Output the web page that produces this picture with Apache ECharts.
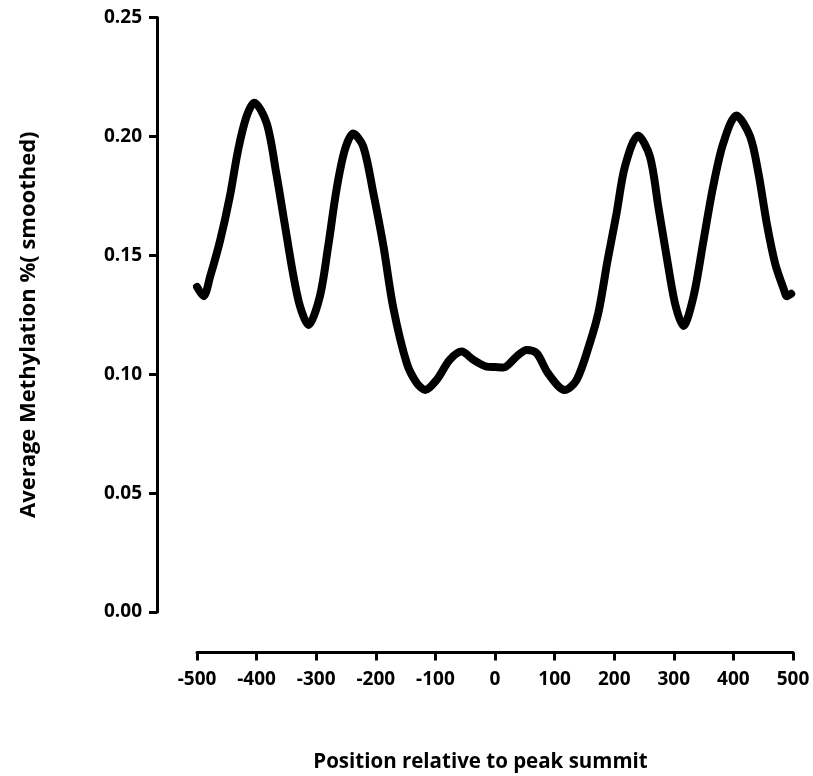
<!DOCTYPE html>
<html>
<head>
<meta charset="utf-8">
<script src="https://cdn.jsdelivr.net/npm/echarts@6/dist/echarts.min.js"></script>
<style>
html,body{margin:0;padding:0;background:#fff;}
#chart{width:813px;height:776px;}
</style>
</head>
<body>
<div id="chart"></div>
<script>
const positions = [-500,-489,-478,-461,-445,-431,-417,-404,-383,-367,-353,-339,-327,-313,-294,-280,-266,-252,-238,-221,-204,-187,-171,-148,-131,-117,-98,-76,-56,-36,-14,0,14,36,53,70,89,117,137,159,174,189,204,218,240,260,274,288,302,316,333,350,366,383,405,428,442,456,470,484,490,497];
const methylation = [0.1367,0.1328,0.141,0.1564,0.1746,0.1943,0.2083,0.2142,0.2055,0.1845,0.1634,0.1424,0.1284,0.1207,0.1326,0.1536,0.1775,0.1943,0.2012,0.1957,0.176,0.1536,0.1284,0.1046,0.0962,0.0934,0.0976,0.106,0.1095,0.106,0.1032,0.103,0.1028,0.1074,0.1102,0.1088,0.1004,0.0934,0.0976,0.113,0.1265,0.148,0.1677,0.1873,0.2004,0.1915,0.1705,0.1494,0.1298,0.1203,0.1326,0.1564,0.1789,0.1971,0.2088,0.2,0.1845,0.1634,0.1466,0.1361,0.1328,0.1338];
const xTitle = 'Position relative to peak summit';
const yTitle = 'Average Methylation %( smoothed)';

const chart = echarts.init(document.getElementById('chart'));
const font = 'Open Sans';
chart.setOption({
  animation: false,
  backgroundColor: '#fff',
  grid: {left: 197, right: 20, top: 17.5, bottom: 164, containLabel: false, outerBoundsMode: 'none'},
  xAxis: {
    type: 'value', min: -500, max: 500, interval: 100, offset: 40.5,
    axisLine: {show: true, onZero: false, lineStyle: {color: '#000', width: 3}},
    axisTick: {show: true, length: 8, lineStyle: {color: '#000', width: 3}},
    splitLine: {show: false},
    axisLabel: {color: '#000', fontFamily: font, fontWeight: 'bold', fontSize: 19, margin: 18},
    name: xTitle, nameLocation: 'middle', nameGap: 99,
    nameTextStyle: {color: '#000', fontFamily: font, fontWeight: 'bold', fontSize: 20.5, padding: [0, 29, 0, 0]}
  },
  yAxis: {
    type: 'value', min: 0, max: 0.25, interval: 0.05, offset: 40,
    axisLine: {show: true, onZero: false, lineStyle: {color: '#000', width: 3}},
    axisTick: {show: true, length: 8, lineStyle: {color: '#000', width: 3}},
    splitLine: {show: false},
    axisLabel: {color: '#000', fontFamily: font, fontWeight: 'bold', fontSize: 19, margin: 15,
      formatter: v => v.toFixed(2)},
    name: yTitle, nameLocation: 'middle', nameGap: 117,
    nameTextStyle: {color: '#000', fontFamily: font, fontWeight: 'bold', fontSize: 22, padding: [0, 20, 0, 0]}
  },
  series: [{
    type: 'line',
    data: positions.map((p, i) => [p, methylation[i]]),
    smooth: 0.3,
    showSymbol: false,
    lineStyle: {color: '#000', width: 8, cap: 'round', join: 'round'}
  }]
});
</script>
</body>
</html>
